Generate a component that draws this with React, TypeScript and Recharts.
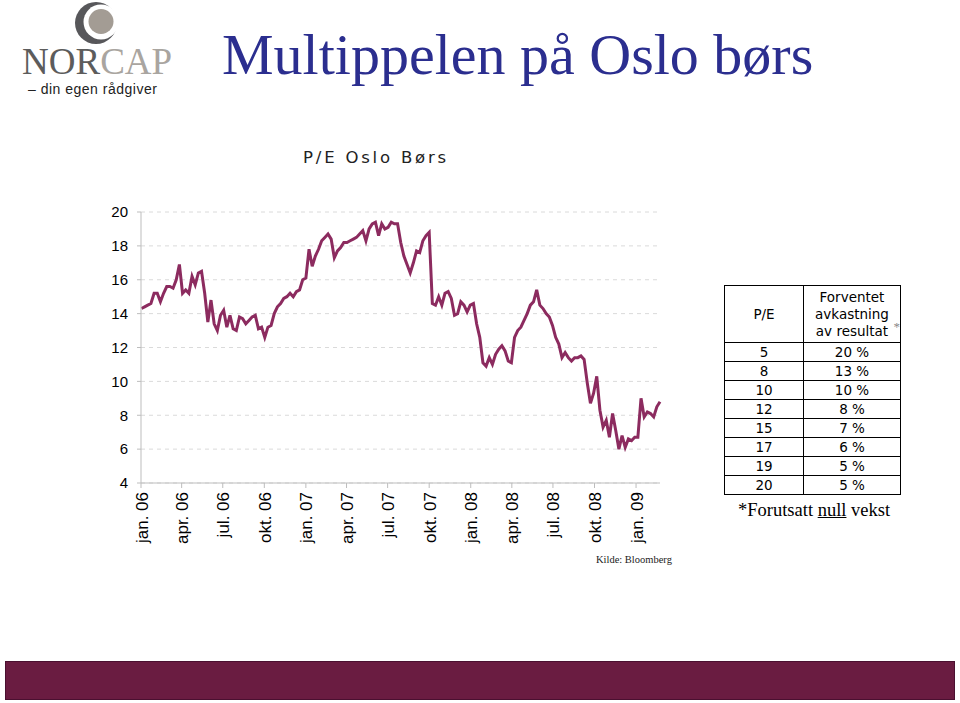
import React from 'react';
import { LineChart, Line, XAxis, YAxis, CartesianGrid } from 'recharts';

// weekly P/E Oslo Børs, first week of jan. 06 to mid feb. 09
const startDate = '2006-01-02';
const peValues = [
  14.3, 14.4, 14.5, 14.6, 15.2, 15.2, 14.7, 15.2, 15.6, 15.6,
  15.5, 16.0, 16.9, 15.2, 15.4, 15.2, 16.2, 15.7, 16.4, 16.5,
  15.2, 13.5, 14.8, 13.4, 13.0, 13.9, 14.2, 13.2, 13.9, 13.1,
  13.0, 13.8, 13.7, 13.4, 13.6, 13.8, 13.9, 13.1, 13.2, 12.6,
  13.2, 13.3, 14.0, 14.4, 14.6, 14.9, 15.0, 15.2, 15.0, 15.3,
  15.4, 16.0, 16.1, 17.8, 16.8, 17.4, 17.8, 18.3, 18.5, 18.7,
  18.4, 17.3, 17.7, 17.9, 18.2, 18.2, 18.3, 18.4, 18.5, 18.7,
  18.9, 18.3, 19.0, 19.3, 19.4, 18.6, 19.3, 19.0, 19.1, 19.4,
  19.3, 19.3, 18.2, 17.4, 16.9, 16.4, 17.0, 17.7, 17.6, 18.3,
  18.6, 18.8, 14.6, 14.5, 15.0, 14.5, 15.2, 15.3, 14.9, 13.9,
  14.0, 14.7, 14.5, 14.1, 14.5, 14.6, 13.4, 12.6, 11.1, 10.9,
  11.4, 11.0, 11.6, 11.9, 12.1, 11.8, 11.2, 11.1, 12.6, 13.0,
  13.2, 13.6, 14.0, 14.5, 14.7, 15.4, 14.5, 14.3, 14.0, 13.8,
  13.3, 12.6, 12.2, 11.4, 11.7, 11.4, 11.2, 11.4, 11.4, 11.5,
  11.3, 9.9, 8.7, 9.3, 10.3, 8.3, 7.3, 7.7, 6.7, 8.1,
  7.1, 6.0, 6.8, 6.1, 6.6, 6.5, 6.7, 6.7, 9.0, 7.9,
  8.2, 8.1, 7.9, 8.5, 8.8,
];

const quarterDates = [
  '2006-01-01', '2006-04-01', '2006-07-01', '2006-10-01',
  '2007-01-01', '2007-04-01', '2007-07-01', '2007-10-01',
  '2008-01-01', '2008-04-01', '2008-07-01', '2008-10-01',
  '2009-01-01',
];
const quarterLabels = [
  'jan. 06', 'apr. 06', 'jul. 06', 'okt. 06',
  'jan. 07', 'apr. 07', 'jul. 07', 'okt. 07',
  'jan. 08', 'apr. 08', 'jul. 08', 'okt. 08',
  'jan. 09',
];
const yTicks = [4, 6, 8, 10, 12, 14, 16, 18, 20];

const tablePE = ['5', '8', '10', '12', '15', '17', '19', '20'];
const tableYield = ['20 %', '13 %', '10 %', '8 %', '7 %', '6 %', '5 %', '5 %'];

const DAY = 86400000;
const origin = Date.UTC(2006, 0, 1);
const toDay = (s: string) => Math.round((Date.parse(s + 'T00:00:00Z') - origin) / DAY);

const firstDay = toDay(startDate);
const data = peValues.map((pe, i) => ({ day: firstDay + i * 7, pe }));
const quarterTicks = quarterDates.map(toDay);
const lastDay = data[data.length - 1].day;

const LINE = '#8C2B5F';
const SANS = '"Liberation Sans", Arial, sans-serif';
const SERIF = '"Liberation Serif", "Times New Roman", serif';
const TABLE_FONT = '"DejaVu Sans", sans-serif';

const XTick = ({ x, y, payload }: any) => {
  const idx = quarterTicks.indexOf(payload.value);
  return (
    <text
      x={x + 1}
      y={y}
      transform={`rotate(-90 ${x + 1} ${y})`}
      textAnchor="end"
      dominantBaseline="central"
      fontSize={17}
      fontFamily={SANS}
      fill="#000"
    >
      {quarterLabels[idx]}
    </text>
  );
};

function Logo() {
  return (
    <svg width={200} height={100} style={{ position: 'absolute', left: 0, top: 0 }}>
      <circle cx={96} cy={23} r={21} fill="#57575A" />
      <circle cx={101} cy={22} r={17.5} fill="#fff" />
      <circle cx={101} cy={21.5} r={12.5} fill="#A39C94" />
      <text x={22} y={74} fontFamily={SERIF} fontSize={37}>
        <tspan fill="#5C5C5C">NOR</tspan>
        <tspan fill="#A9A5A0">CAP</tspan>
      </text>
      <text x={28} y={94} fontFamily={SANS} fontSize={14} letterSpacing={0.5} fill="#222">
        – din egen rådgiver
      </text>
    </svg>
  );
}

export default function App() {
  const cell: React.CSSProperties = {
    border: '1.5px solid #000',
    padding: 0,
    textAlign: 'center',
    height: 18,
    lineHeight: '18px',
  };
  return (
    <div
      style={{
        position: 'absolute',
        left: 0,
        top: 0,
        width: 960,
        height: 703,
        background: '#fff',
        overflow: 'hidden',
      }}
    >
      <Logo />
      <div
        style={{
          position: 'absolute',
          left: 222,
          top: 22,
          fontFamily: SERIF,
          fontSize: 58,
          lineHeight: '66px',
          color: '#2B2E8F',
          whiteSpace: 'nowrap',
        }}
      >
        Multippelen på Oslo børs
      </div>

      <div
        style={{
          position: 'absolute',
          left: 200,
          width: 352,
          top: 148,
          textAlign: 'center',
          fontFamily: '"DejaVu Sans", sans-serif',
          fontSize: 16.5,
          letterSpacing: 2.8,
          color: '#222',
        }}
      >
        P/E Oslo Børs
      </div>

      <div style={{ position: 'absolute', left: 0, top: 190 }}>
        <LineChart
          width={700}
          height={370}
          data={data}
          margin={{ top: 22, right: 40, left: 0, bottom: 0 }}
        >
          <CartesianGrid
            vertical={false}
            stroke="#DADADA"
            strokeDasharray="4 4"
          />
          <XAxis
            dataKey="day"
            type="number"
            domain={[0, lastDay]}
            ticks={quarterTicks}
            interval={0}
            height={77}
            tickSize={5}
            tickMargin={4}
            axisLine={{ stroke: '#BDBDBD' }}
            tickLine={{ stroke: '#BDBDBD' }}
            tick={<XTick />}
          />
          <YAxis
            width={141}
            domain={[4, 20]}
            ticks={yTicks}
            interval={0}
            tickSize={4}
            tickMargin={9}
            axisLine={{ stroke: '#BDBDBD' }}
            tickLine={{ stroke: '#BDBDBD' }}
            tick={{ fill: '#000', fontSize: 15, fontFamily: SANS }}
          />
          <Line
            type="linear"
            dataKey="pe"
            stroke={LINE}
            strokeWidth={3}
            dot={false}
            isAnimationActive={false}
          />
        </LineChart>
      </div>

      <div
        style={{
          position: 'absolute',
          left: 596,
          top: 554,
          fontFamily: SERIF,
          fontSize: 10.5,
          color: '#222',
        }}
      >
        Kilde: Bloomberg
      </div>

      <table
        style={{
          position: 'absolute',
          left: 724,
          top: 285,
          width: 177,
          borderCollapse: 'collapse',
          fontFamily: TABLE_FONT,
          fontSize: 13.5,
          color: '#000',
        }}
      >
        <tbody>
          <tr>
            <td style={{ ...cell, width: 78, height: 56 }}>P/E</td>
            <td style={{ ...cell, height: 56, lineHeight: '17px', position: 'relative' }}>
              Forventet
              <br />
              avkastning
              <br />
              av resultat
              <span
                style={{
                  position: 'absolute',
                  right: 0,
                  top: 34,
                  fontSize: 13,
                  lineHeight: '13px',
                  color: '#888',
                  fontFamily: SERIF,
                }}
              >
                *
              </span>
            </td>
          </tr>
          {tablePE.map((pe, i) => (
            <tr key={pe + i}>
              <td style={cell}>{pe}</td>
              <td style={cell}>{tableYield[i]}</td>
            </tr>
          ))}
        </tbody>
      </table>

      <div
        style={{
          position: 'absolute',
          left: 738,
          top: 500,
          fontFamily: SERIF,
          fontSize: 18.5,
          color: '#000',
          whiteSpace: 'nowrap',
        }}
      >
        *Forutsatt <span style={{ textDecoration: 'underline' }}>null</span> vekst
      </div>

      <div
        style={{
          position: 'absolute',
          left: 5,
          top: 661,
          width: 950,
          height: 39,
          boxSizing: 'border-box',
          background: '#6A1C41',
          border: '1px solid #4A1030',
        }}
      />
    </div>
  );
}
